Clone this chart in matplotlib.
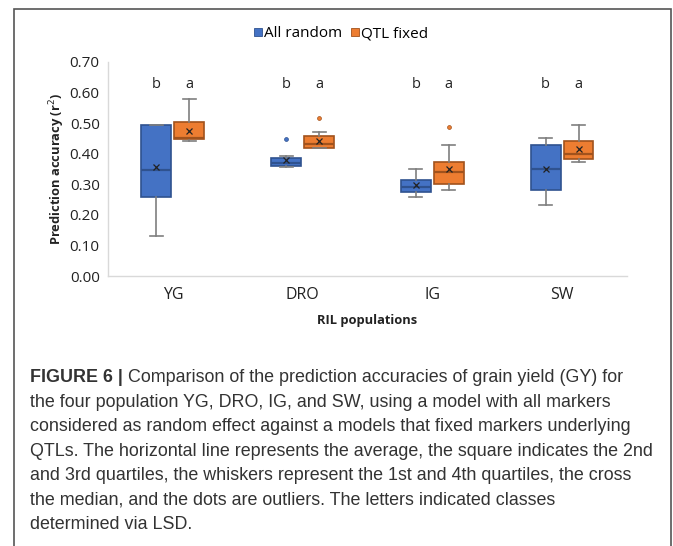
import matplotlib
matplotlib.use("Agg")
import matplotlib.pyplot as plt
from matplotlib.lines import Line2D
from matplotlib.patches import Rectangle

# data (prediction accuracy r2)
populations = ["YG", "DRO", "IG", "SW"]
series = ["All random", "QTL fixed"]

rand_whislo = [0.132, 0.357, 0.259, 0.231]
rand_q1 = [0.259, 0.360, 0.274, 0.280]
rand_med = [0.347, 0.369, 0.290, 0.349]
rand_q3 = [0.494, 0.387, 0.313, 0.427]
rand_whishi = [0.494, 0.394, 0.350, 0.451]
rand_mean = [0.357, 0.379, 0.297, 0.349]
rand_fliers = [[], [0.449], [], []]

qtl_whislo = [0.443, 0.418, 0.280, 0.373]
qtl_q1 = [0.447, 0.420, 0.300, 0.382]
qtl_med = [0.450, 0.433, 0.339, 0.399]
qtl_q3 = [0.505, 0.458, 0.373, 0.443]
qtl_whishi = [0.579, 0.470, 0.429, 0.495]
qtl_mean = [0.475, 0.442, 0.349, 0.414]
qtl_fliers = [[], [0.517], [0.486], []]

letters_rand = ["b", "b", "b", "b"]
letters_qtl = ["a", "a", "a", "a"]

yticks = [0.0, 0.1, 0.2, 0.3, 0.4, 0.5, 0.6, 0.7]

caption_bold = "FIGURE 6 |"
caption_lines = [
    " Comparison of the prediction accuracies of grain yield (GY) for",
    "the four population YG, DRO, IG, and SW, using a model with all markers",
    "considered as random effect against a models that fixed markers underlying",
    "QTLs. The horizontal line represents the average, the square indicates the 2nd",
    "and 3rd quartiles, the whiskers represent the 1st and 4th quartiles, the cross",
    "the median, and the dots are outliers. The letters indicated classes",
    "determined via LSD.",
]

blue = "#4472C4"
blue_edge = "#2F528F"
orange = "#ED7D31"
orange_edge = "#A1521C"

def make_stats(lo, q1, med, q3, hi, mean, fl):
    out = []
    for i in range(len(lo)):
        out.append({"whislo": lo[i], "q1": q1[i], "med": med[i], "q3": q3[i],
                    "whishi": hi[i], "mean": mean[i], "fliers": fl[i]})
    return out

fig = plt.figure(figsize=(6.73, 5.46), dpi=100)
ax = fig.add_axes([0.1605, 0.4945, 0.771, 0.392])

pos = list(range(1, len(populations) + 1))
off = 0.127
w = 0.231

groups = [
    (make_stats(rand_whislo, rand_q1, rand_med, rand_q3, rand_whishi, rand_mean, rand_fliers),
     -off, blue, blue_edge, letters_rand),
    (make_stats(qtl_whislo, qtl_q1, qtl_med, qtl_q3, qtl_whishi, qtl_mean, qtl_fliers),
     off, orange, orange_edge, letters_qtl),
]
for stats, dx, fc, ec, letters in groups:
    p = [x + dx for x in pos]
    ax.bxp(stats, positions=p, widths=w, patch_artist=True, showmeans=True,
           boxprops=dict(facecolor=fc, edgecolor=ec, linewidth=1.2),
           medianprops=dict(color=ec, linewidth=1.6),
           whiskerprops=dict(color="#7F7F7F", linewidth=1.2),
           capprops=dict(color="#7F7F7F", linewidth=1.2),
           capwidths=0.1,
           meanprops=dict(marker="x", markeredgecolor="#222222", markersize=5,
                          markeredgewidth=0.9),
           flierprops=dict(marker="o", markerfacecolor=fc, markeredgecolor=ec,
                           markersize=2.8, markeredgewidth=0.5))
    for x, t in zip(p, letters):
        ax.text(x, 0.627, t, ha="center", va="center", fontsize=10.5,
                family="Open Sans", color="#222222")

ax.set_xlim(0.5, len(populations) + 0.5)
ax.set_ylim(0, 0.7)
ax.set_xticks(pos)
ax.set_xticklabels(populations, family="Open Sans", fontsize=11.5, color="#222222")
ax.set_yticks(yticks)
ax.set_yticklabels([f"{v:.2f}" for v in yticks], family="Open Sans", fontsize=11,
                   color="#222222")
ax.tick_params(length=0, pad=6)
ax.tick_params(axis="x", pad=8)
for s in ["top", "right"]:
    ax.spines[s].set_visible(False)
for s in ["left", "bottom"]:
    ax.spines[s].set_color("#D9D9D9")
    ax.spines[s].set_linewidth(1.0)

ax.set_ylabel("Prediction accuracy (r$^2$)", family="Open Sans", fontsize=9.3,
              fontweight="bold", color="#222222", labelpad=2)
ax.set_xlabel("RIL populations", family="Open Sans", fontsize=9.3,
              fontweight="bold", color="#222222", labelpad=8)

handles = [Line2D([], [], marker="s", linestyle="none", markersize=6,
                  markerfacecolor=blue, markeredgecolor=blue_edge, markeredgewidth=0.6),
           Line2D([], [], marker="s", linestyle="none", markersize=6,
                  markerfacecolor=orange, markeredgecolor=orange_edge, markeredgewidth=0.6)]
fig.legend(handles, series, loc="center", bbox_to_anchor=(0.505, 0.938), ncol=2,
           frameon=False, handletextpad=0.0, columnspacing=0.4, handlelength=0.8,
           prop=dict(family="Open Sans", size=11))

# frame around the whole figure panel
fig.patches.append(Rectangle((14 / 673, -0.05), (671 - 14) / 673, 1.05 - 9 / 546,
                             transform=fig.transFigure, fill=False,
                             edgecolor="#555555", linewidth=1.2))

# caption
x0 = 30 / 673
y0 = 1 - 378 / 546
dy = 24.4 / 546
cap_font = dict(family="Liberation Sans", fontsize=12.9, color="#333333", va="center")
bt = fig.text(x0, y0, caption_bold, fontweight="bold", **cap_font)
fig.canvas.draw()
bb = bt.get_window_extent(renderer=fig.canvas.get_renderer())
fig.text(bb.x1 / fig.bbox.width, y0, caption_lines[0], **cap_font)
for i, line in enumerate(caption_lines[1:], start=1):
    fig.text(x0, y0 - i * dy, line, **cap_font)

fig.savefig("out.png", dpi=100)
